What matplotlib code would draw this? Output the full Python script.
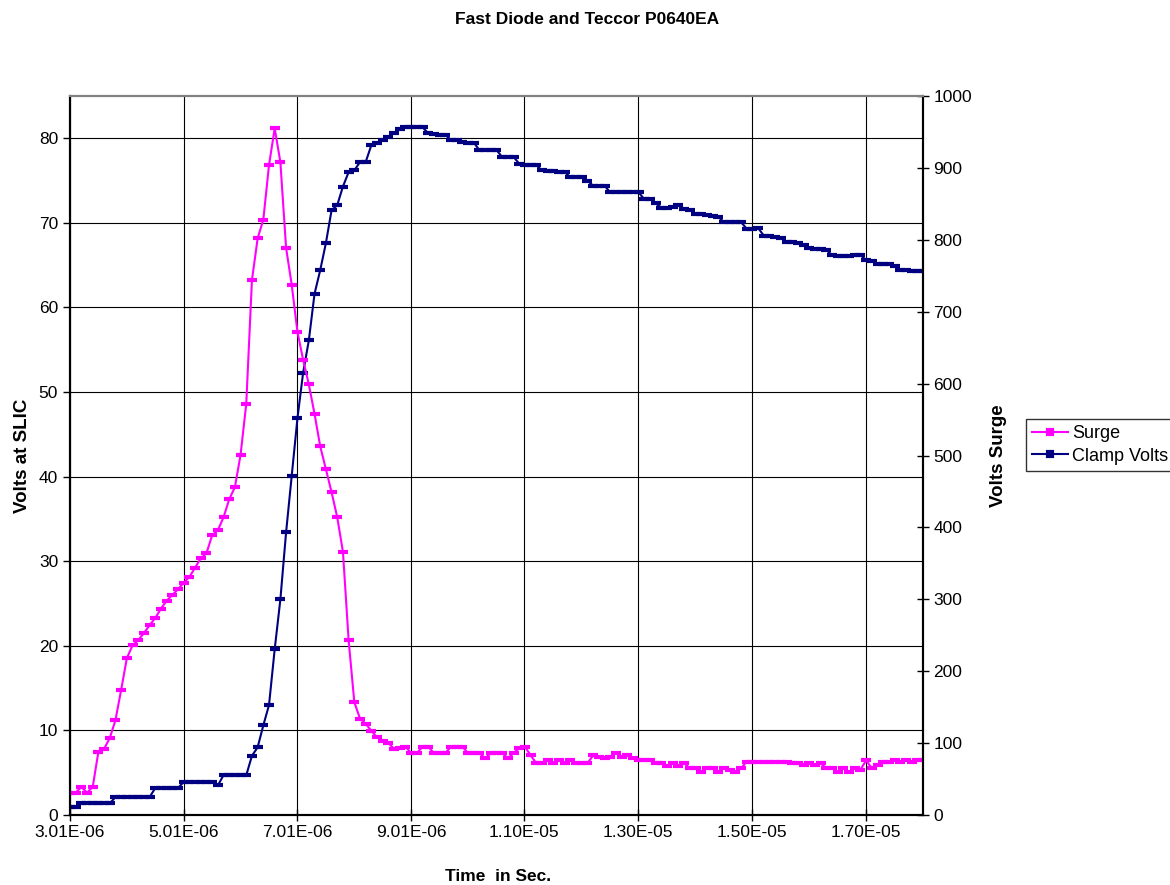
import numpy as np
import matplotlib
matplotlib.use("Agg")
import matplotlib.pyplot as plt

plt.rcParams['font.family'] = ['Liberation Sans', 'DejaVu Sans']

# time base: one sample every 0.1 us starting at 3.01 us
t0 = 3.01e-6
dt = 1e-7

# surge voltage (right axis), volts
surge = [31, 31, 39, 31, 39, 88, 92, 107, 132, 174,
         218, 236, 243, 253, 264, 274, 287, 298, 306, 314,
         323, 331, 344, 357, 364, 389, 396, 414, 439, 456,
         501, 572, 744, 802, 828, 904, 955, 908, 789, 737,
         672, 633, 599, 558, 513, 481, 449, 414, 366, 243,
         157, 134, 127, 117, 108, 103, 100, 92, 93, 95,
         86, 86, 95, 95, 86, 86, 86, 95, 95, 95,
         86, 86, 86, 79, 86, 86, 86, 79, 86, 93,
         95, 83, 72, 72, 76, 72, 76, 72, 76, 72,
         72, 72, 83, 81, 79, 81, 86, 81, 83, 79,
         76, 76, 76, 72, 72, 68, 72, 68, 72, 65,
         65, 60, 65, 65, 60, 65, 63, 60, 65, 74,
         74, 74, 74, 74, 74, 74, 74, 72, 72, 70,
         72, 70, 72, 65, 65, 60, 65, 60, 65, 63,
         76, 65, 70, 74, 74, 76, 74, 76, 74, 76, 76]

# clamp voltage at the SLIC (left axis), volts
clamp = [0.9, 0.9, 1.4, 1.4, 1.4, 1.4, 1.4, 1.4, 2.1, 2.1,
         2.1, 2.1, 2.1, 2.1, 2.1, 3.2, 3.2, 3.2, 3.2, 3.2,
         3.9, 3.9, 3.9, 3.9, 3.9, 3.9, 3.5, 4.7, 4.7, 4.7,
         4.7, 4.7, 7.0, 8.0, 10.6, 13.0, 19.6, 25.5, 33.4, 40.1,
         46.9, 52.3, 56.1, 61.6, 64.4, 67.6, 71.5, 72.1, 74.3, 76.0,
         76.2, 77.2, 77.2, 79.2, 79.4, 79.8, 80.2, 80.6, 81.1, 81.3,
         81.3, 81.3, 81.3, 80.6, 80.5, 80.4, 80.4, 79.8, 79.8, 79.6,
         79.5, 79.5, 78.6, 78.6, 78.6, 78.6, 77.8, 77.8, 77.8, 77.0,
         76.9, 76.8, 76.8, 76.2, 76.1, 76.1, 76.0, 76.0, 75.4, 75.4,
         75.4, 75.0, 74.4, 74.4, 74.4, 73.6, 73.6, 73.6, 73.6, 73.6,
         73.6, 72.8, 72.8, 72.3, 71.8, 71.8, 71.9, 72.1, 71.7, 71.5,
         71.1, 71.0, 70.9, 70.8, 70.7, 70.1, 70.1, 70.1, 70.1, 69.3,
         69.3, 69.4, 68.5, 68.4, 68.3, 68.2, 67.7, 67.7, 67.6, 67.4,
         67.0, 66.9, 66.9, 66.8, 66.2, 66.1, 66.1, 66.1, 66.2, 66.2,
         65.6, 65.5, 65.2, 65.1, 65.1, 64.9, 64.4, 64.4, 64.3, 64.3, 64.3]

tick_vals = [3.01e-6, 5.01e-6, 7.01e-6, 9.01e-6, 1.10e-5, 1.30e-5, 1.50e-5, 1.70e-5]
tick_labels = ["3.01E-06", "5.01E-06", "7.01E-06", "9.01E-06",
               "1.10E-05", "1.30E-05", "1.50E-05", "1.70E-05"]

t = t0 + dt * np.arange(len(clamp))

fig = plt.figure(figsize=(11.7, 8.85), dpi=100)
ax = fig.add_axes([0.0598, 0.0791, 0.7291, 0.8124])
ax2 = ax.twinx()

mk = dict(marker='_', markersize=6.5, markeredgewidth=3)
l2, = ax.plot(t, clamp, color='#000080', lw=1.5, label='Clamp Volts', **mk)
l1, = ax2.plot(t, surge, color='#FF00FF', lw=1.5, label='Surge', **mk)

ax.set_xlim(3.01e-6, 1.801e-5)
ax.set_ylim(0, 85)
ax2.set_ylim(0, 1000)
ax.set_yticks(range(0, 81, 10))
ax2.set_yticks(range(0, 1001, 100))
ax.set_xticks(tick_vals)
ax.set_xticklabels(tick_labels)

ax.grid(True, color='black', lw=0.8)
ax.set_axisbelow(True)

ax.tick_params(axis='y', direction='out', length=5, labelsize=12.5, width=1)
ax.tick_params(axis='x', direction='inout', length=8, labelsize=12.5, width=1)
ax2.tick_params(axis='y', direction='inout', length=8, labelsize=12.5, width=1)

for a in (ax, ax2):
    a.spines['top'].set_color('#808080')
    a.spines['top'].set_linewidth(1.5)
    for s in ('left', 'bottom', 'right'):
        a.spines[s].set_linewidth(1.5)
        a.spines[s].set_color('black')

ax.set_ylabel('Volts at SLIC', fontsize=13.5, fontweight='bold')
ax.yaxis.set_label_coords(-0.046, 0.5)
ax2.set_ylabel('Volts Surge', fontsize=13.5, fontweight='bold')
ax2.yaxis.set_label_coords(1.078, 0.5)
ax.set_xlabel('Time  in Sec.', fontsize=12.5, fontweight='bold')
ax.xaxis.set_label_coords(0.502, -0.075)

fig.text(0.5015, 1 - 20 / 885, 'Fast Diode and Teccor P0640EA', ha='center', va='center',
         fontsize=12.5, fontweight='bold')

leg = fig.legend([l1, l2], ['Surge', 'Clamp Volts'], loc='upper left',
                 bbox_to_anchor=(1026 / 1170, 1 - 419 / 885), fontsize=13,
                 frameon=True, fancybox=False, edgecolor='black', handlelength=2.0,
                 handletextpad=0.2, borderpad=0.35, labelspacing=0.3, borderaxespad=0)
leg.get_frame().set_linewidth(1.0)
for h in leg.legend_handles:
    h.set_marker('s')
    h.set_markersize(3)

fig.savefig('out.png', dpi=100)
